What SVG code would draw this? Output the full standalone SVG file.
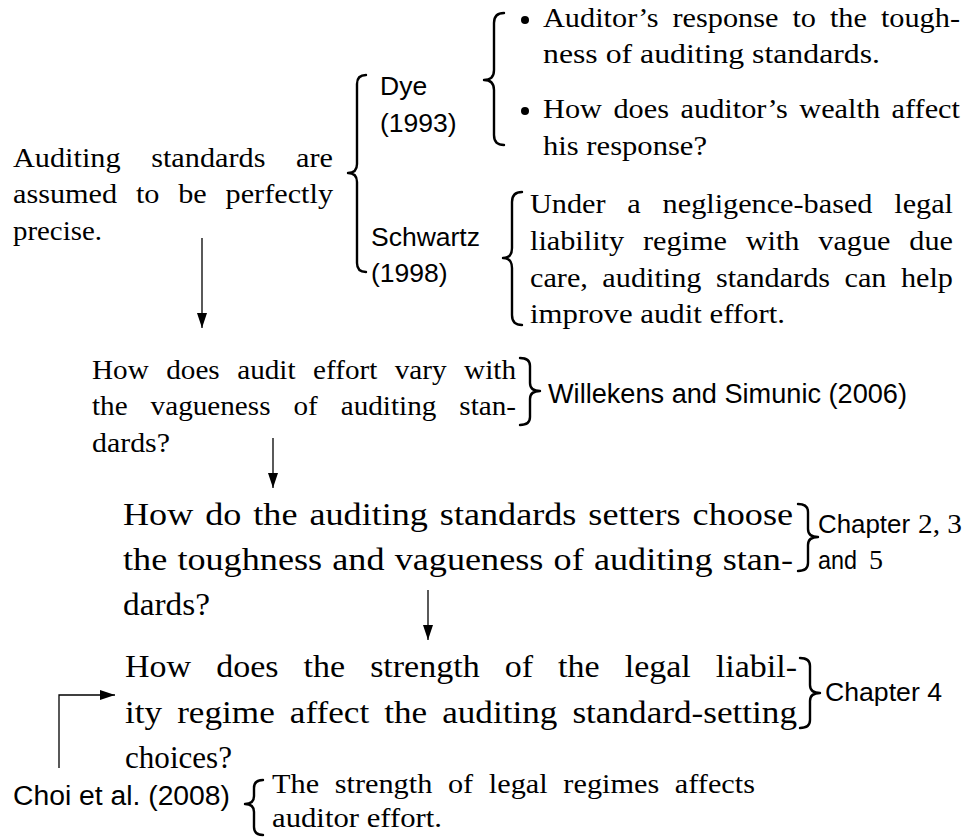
<svg xmlns="http://www.w3.org/2000/svg" width="967" height="837" viewBox="0 0 967 837">
<style>
.s{font-family:"Liberation Serif","Times New Roman",serif;fill:#000}
.ss{font-family:"Liberation Sans",Arial,sans-serif;fill:#000}
.br{fill:none;stroke:#000;stroke-width:2.4;stroke-linecap:round;stroke-linejoin:round}
.ar{fill:none;stroke:#000;stroke-width:1.3}
</style>
<defs>
<marker id="ah" markerWidth="15" markerHeight="10" refX="15" refY="5" orient="auto" markerUnits="userSpaceOnUse"><path d="M0,0 L15,5 L0,10 z" fill="#000"/></marker>
</defs>
<rect width="967" height="837" fill="#fff"/>

<g id="connectors">
<line class="ar" x1="202" y1="238" x2="202" y2="328" marker-end="url(#ah)"/>
<line class="ar" x1="273" y1="438" x2="273" y2="488" marker-end="url(#ah)"/>
<line class="ar" x1="428" y1="590" x2="428" y2="640" marker-end="url(#ah)"/>
<polyline class="ar" points="59,768 59,695 115,695" marker-end="url(#ah)"/>
</g>

<g id="n-assumption">
<text class="s" x="13" y="167" font-size="28" word-spacing="21.4" textLength="320" lengthAdjust="spacingAndGlyphs">Auditing standards are</text>
<text class="s" x="13" y="203" font-size="28" word-spacing="10.4" textLength="320" lengthAdjust="spacingAndGlyphs">assumed to be perfectly</text>
<text class="s" x="13" y="240" font-size="28" textLength="89" lengthAdjust="spacingAndGlyphs">precise.</text>
<path class="br" d="M366,75 Q357,75 357,84 L357,164 Q357,173 348,173 Q357,173 357,182 L357,263 Q357,272 366,272"/>
</g>

<g id="n-dye">
<text class="ss" x="380" y="95" font-size="26.5">Dye</text>
<text class="ss" x="380" y="132" font-size="26.5">(1993)</text>
<path class="br" d="M504,13 Q494,13 494,23 L494,70 Q494,80 484,80 Q494,80 494,90 L494,135 Q494,145 504,145"/>
<circle cx="525" cy="20" r="4"/>
<text class="s" x="543" y="27" font-size="28" word-spacing="5.9" textLength="417" lengthAdjust="spacingAndGlyphs">Auditor’s response to the tough-</text>
<text class="s" x="543" y="63" font-size="28" textLength="337" lengthAdjust="spacingAndGlyphs">ness of auditing standards.</text>
<circle cx="525" cy="111" r="4"/>
<text class="s" x="543" y="118" font-size="28" word-spacing="3.6" textLength="417" lengthAdjust="spacingAndGlyphs">How does auditor’s wealth affect</text>
<text class="s" x="543" y="155" font-size="28" textLength="164" lengthAdjust="spacingAndGlyphs">his response?</text>
</g>

<g id="n-schwartz">
<text class="ss" x="371" y="246" font-size="26.5">Schwartz</text>
<text class="ss" x="371" y="282" font-size="26.5">(1998)</text>
<path class="br" d="M522,192 Q512,192 512,202 L512,248 Q512,258 503,258 Q512,258 512,268 L512,315 Q512,325 522,325"/>
<text class="s" x="530" y="213" font-size="28" word-spacing="13.2" textLength="423" lengthAdjust="spacingAndGlyphs">Under a negligence-based legal</text>
<text class="s" x="530" y="250" font-size="28" word-spacing="10.4" textLength="423" lengthAdjust="spacingAndGlyphs">liability regime with vague due</text>
<text class="s" x="530" y="287" font-size="28" word-spacing="6.4" textLength="423" lengthAdjust="spacingAndGlyphs">care, auditing standards can help</text>
<text class="s" x="530" y="323" font-size="28" textLength="255" lengthAdjust="spacingAndGlyphs">improve audit effort.</text>
</g>

<g id="n-vagueness">
<text class="s" x="92" y="379" font-size="27" word-spacing="9.4" textLength="424" lengthAdjust="spacingAndGlyphs">How does audit effort vary with</text>
<text class="s" x="92" y="415" font-size="27" word-spacing="14.5" textLength="424" lengthAdjust="spacingAndGlyphs">the vagueness of auditing stan-</text>
<text class="s" x="92" y="452" font-size="27" textLength="78" lengthAdjust="spacingAndGlyphs">dards?</text>
<path class="br" d="M520,358 Q530,358 530,366 L530,383 Q530,391 540,391 Q530,391 530,399 L530,417 Q530,425 520,425"/>
<text class="ss" x="548" y="403" font-size="27" textLength="359" lengthAdjust="spacingAndGlyphs">Willekens and Simunic (2006)</text>
</g>

<g id="n-setters">
<text class="s" x="123" y="525" font-size="31" word-spacing="2.5" textLength="670" lengthAdjust="spacingAndGlyphs">How do the auditing standards setters choose</text>
<text class="s" x="123" y="570" font-size="31" word-spacing="1" textLength="670" lengthAdjust="spacingAndGlyphs">the toughness and vagueness of auditing stan-</text>
<text class="s" x="123" y="615" font-size="31" textLength="87" lengthAdjust="spacingAndGlyphs">dards?</text>
<path class="br" d="M798,504 Q808,504 808,512 L808,529 Q808,537 818,537 Q808,537 808,545 L808,563 Q808,571 798,571"/>
<text class="ss" x="818" y="533" font-size="25" textLength="92" lengthAdjust="spacingAndGlyphs">Chapter</text>
<text class="s" x="918" y="533" font-size="28" textLength="44" lengthAdjust="spacingAndGlyphs">2, 3</text>
<text class="ss" x="818" y="569" font-size="25" textLength="39" lengthAdjust="spacingAndGlyphs">and</text>
<text class="s" x="869" y="569" font-size="28">5</text>
</g>

<g id="n-liability">
<text class="s" x="125" y="677" font-size="31" word-spacing="15.1" textLength="672" lengthAdjust="spacingAndGlyphs">How does the strength of the legal liabil-</text>
<text class="s" x="125" y="723" font-size="31" word-spacing="5.5" textLength="672" lengthAdjust="spacingAndGlyphs">ity regime affect the auditing standard-setting</text>
<text class="s" x="125" y="768" font-size="31" textLength="107" lengthAdjust="spacingAndGlyphs">choices?</text>
<path class="br" d="M800,658 Q810,658 810,666 L810,685 Q810,693 820,693 Q810,693 810,701 L810,720 Q810,728 800,728"/>
<text class="ss" x="825" y="701" font-size="26" textLength="117" lengthAdjust="spacingAndGlyphs">Chapter 4</text>
</g>

<g id="n-choi">
<text class="ss" x="13" y="805" font-size="27" textLength="217" lengthAdjust="spacingAndGlyphs">Choi et al. (2008)</text>
<path class="br" d="M263,780 Q254,780 254,788 L254,796 Q254,804 245,804 Q254,804 254,812 L254,827 Q254,835 263,835"/>
<text class="s" x="272" y="793" font-size="28" word-spacing="7.5" textLength="483" lengthAdjust="spacingAndGlyphs">The strength of legal regimes affects</text>
<text class="s" x="272" y="827" font-size="28" textLength="170" lengthAdjust="spacingAndGlyphs">auditor effort.</text>
</g>
</svg>
